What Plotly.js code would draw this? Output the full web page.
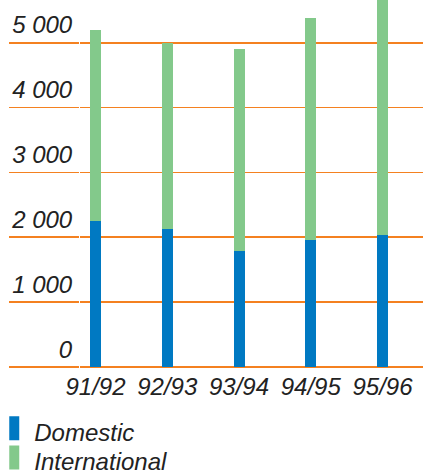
<!DOCTYPE html>
<html>
<head>
<meta charset="utf-8">
<script src="https://cdn.plot.ly/plotly-3.0.1.min.js"></script>
<style>
  html, body { margin: 0; padding: 0; background: #fff; }
  #chart { width: 423px; height: 470px; }
</style>
</head>
<body>
<div id="chart"></div>
<script>
// Passengers by season, split into domestic and international traffic
const seasons = ['91/92', '92/93', '93/94', '94/95', '95/96'];
const domestic = [2250, 2130, 1785, 1965, 2030];
const international = [2950, 2860, 3120, 3415, 3670];

const yTickVals = [0, 1000, 2000, 3000, 4000, 5000];
const yTickText = ['0', '1 000', '2 000', '3 000', '4 000', '5 000'];

const ORANGE = '#F48120';
const BLUE = '#0079C2';
const GREEN = '#83C98B';
const TEXT = '#222222';
const FONT = 'Liberation Sans, Arial, sans-serif';

const traces = [
  {
    type: 'bar', name: 'Domestic', x: seasons, y: domestic,
    marker: { color: BLUE, line: { width: 0 } }
  },
  {
    type: 'bar', name: 'International', x: seasons, y: international,
    marker: { color: GREEN, line: { width: 0 } }
  }
];

const layout = {
  width: 423, height: 470,
  margin: { l: 80, r: 0, t: 0, b: 103, autoexpand: false },
  paper_bgcolor: '#fff', plot_bgcolor: '#fff',
  barmode: 'stack',
  bargap: 0.847,
  showlegend: true,
  font: { family: FONT, color: TEXT, size: 24, style: 'italic' },
  xaxis: {
    type: 'category',
    range: [-0.216, 4.564],
    showgrid: false, zeroline: false, showline: false,
    ticks: '',
    tickfont: { family: FONT, size: 24, color: TEXT, style: 'italic' },
    ticklabelstandoff: 3
  },
  yaxis: {
    range: [0, 5659],
    tickvals: yTickVals, ticktext: yTickText,
    showgrid: true, gridcolor: ORANGE, gridwidth: 1.7,
    zeroline: true, zerolinecolor: ORANGE, zerolinewidth: 2.6,
    showline: false,
    ticks: 'outside', ticklen: 70, tickwidth: 1.7, tickcolor: ORANGE,
    ticklabelposition: 'outside top',
    ticklabelstandoff: 2,
    tickfont: { family: FONT, size: 24, color: TEXT, style: 'italic' }
  },
  legend: {
    orientation: 'v',
    x: -0.25, xanchor: 'left',
    y: -0.115, yanchor: 'top',
    traceorder: 'normal',
    bgcolor: 'rgba(0,0,0,0)',
    font: { family: FONT, size: 24, color: TEXT, style: 'italic' },
    tracegroupgap: 0
  }
};

Plotly.newPlot('chart', traces, layout, { displayModeBar: false, staticPlot: true }).then(function (gd) {
  // tall, narrow legend swatches sitting slightly above the text line
  gd.querySelectorAll('.legend .legendpoints path').forEach(function (p) {
    p.setAttribute('d', 'M5,9H-5V-15H5Z');
  });
  // tighter spacing between the two legend entries
  const items = gd.querySelectorAll('.legend .traces');
  if (items.length > 1) {
    const it = items[1];
    const m = /translate\(\s*([-\d.]+)[ ,]+([-\d.]+)\s*\)/.exec(it.getAttribute('transform') || '');
    if (m) {
      it.setAttribute('transform', 'translate(' + m[1] + ',' + (parseFloat(m[2]) - 5) + ')');
    }
  }
});
</script>
</body>
</html>
